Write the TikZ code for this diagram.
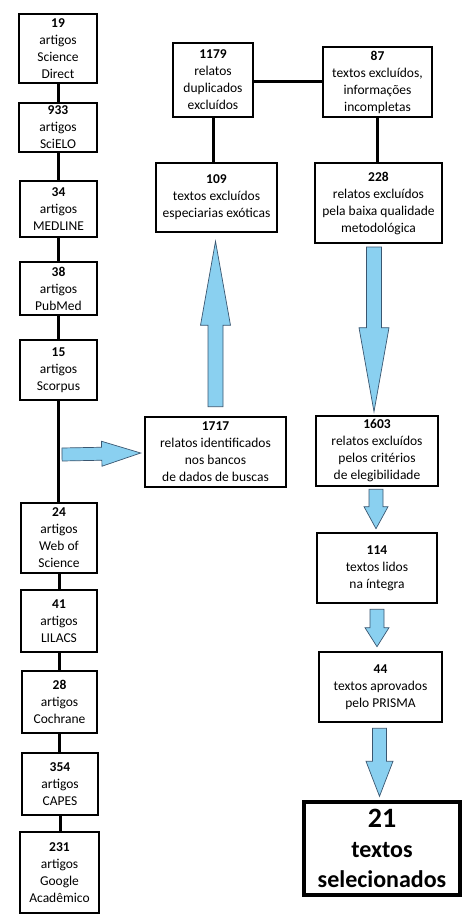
\documentclass[tikz,border=0pt]{standalone}
\usepackage{fontspec}
\setmainfont{Carlito}
\usetikzlibrary{calc}
\definecolor{arrfill}{HTML}{8AD0F0}
\definecolor{arrline}{HTML}{3A5670}
\tikzset{
  box/.style={draw=black, line width=2.6pt, fill=white, align=center, inner sep=0pt,
    font=\fontsize{13.5}{17}\selectfont},
  bigbox/.style={box, line width=3.4pt, font=\fontsize{24}{30}\selectfont\bfseries},
  link/.style={line width=3pt, black},
  arrowstyle/.style={fill=arrfill, draw=arrline, line width=0.7pt, line join=miter}
}
\newcommand\fatarrow[5]{%
  \path (#2) coordinate (fa-t) ($(#2)!#5!(#1)$) coordinate (fa-h);
  \draw[arrowstyle] ($(#1)!#3!90:(#2)$) -- ($(fa-h)!#3!90:(fa-t)$) -- ($(fa-h)!#4!90:(fa-t)$)
    -- (fa-t) -- ($(fa-h)!#4!-90:(fa-t)$) -- ($(fa-h)!#3!-90:(fa-t)$) -- ($(#1)!#3!-90:(#2)$) -- cycle;}
\begin{document}
\begin{tikzpicture}[x=1pt,y=-1pt]
\useasboundingbox (0,0) rectangle (474,915);
% left column
\node[box, minimum width=78pt, minimum height=69pt] (n19) at (58,48.5) {\textbf{19}\\artigos\\Science\\Direct};
\node[box, minimum width=78pt, minimum height=49pt] (n933) at (58,127.5) {\textbf{933}\\artigos\\SciELO};
\node[box, minimum width=77pt, minimum height=56pt] (n34) at (58.5,209) {\textbf{34}\\artigos\\MEDLINE};
\node[box, minimum width=77pt, minimum height=53pt] (n38) at (58.5,288.5) {\textbf{38}\\artigos\\PubMed};
\node[box, minimum width=77pt, minimum height=60pt] (n15) at (58.5,370) {\textbf{15}\\artigos\\Scorpus};
\node[box, minimum width=76pt, minimum height=70pt] (n24) at (59,538) {\textbf{24}\\artigos\\Web of\\Science};
\node[box, minimum width=76pt, minimum height=62pt] (n41) at (59,621) {\textbf{41}\\artigos\\LILACS};
\node[box, minimum width=75pt, minimum height=62pt] (n28) at (59.5,702) {\textbf{28}\\artigos\\Cochrane};
\node[box, minimum width=76pt, minimum height=62pt] (n354) at (60,784) {\textbf{354}\\artigos\\CAPES};
\node[box, minimum width=79pt, minimum height=81pt] (n231) at (59.5,872.5) {\textbf{231}\\artigos\\Google\\Acadêmico};
% middle and right
\node[box, minimum width=80pt, minimum height=74pt] (n1179) at (213,80) {\textbf{1179}\\relatos\\duplicados\\excluídos};
\node[box, minimum width=109pt, minimum height=70pt] (n87) at (377.5,82) {\textbf{87}\\textos excluídos,\\informações\\incompletas};
\node[box, minimum width=121pt, minimum height=69pt] (n109) at (216.5,197.5) {\textbf{109}\\textos excluídos\\especiarias exóticas};
\node[box, minimum width=127pt, minimum height=80pt] (n228) at (378.5,203) {\textbf{228}\\relatos excluídos\\pela baixa qualidade\\metodológica};
\node[box, minimum width=141pt, minimum height=70pt] (n1717) at (215.5,452) {\textbf{1717}\\relatos identificados\\nos bancos\\de dados de buscas};
\node[box, minimum width=122pt, minimum height=70pt] (n1603) at (377,451) {\textbf{1603}\\relatos excluídos\\pelos critérios\\de elegibilidade};
\node[box, minimum width=120pt, minimum height=70pt] (n114) at (377,568) {\textbf{114}\\textos lidos\\na íntegra};
\node[box, minimum width=123pt, minimum height=70pt] (n44) at (380.5,687) {\textbf{44}\\textos aprovados\\pelo PRISMA};
\node[bigbox, minimum width=156pt, minimum height=93pt] (n21) at (382,848.5) {{\fontsize{28}{30}\selectfont 21}\\textos\\selecionados};
% links left column
\foreach \a/\b in {n19/n933,n933/n34,n34/n38,n38/n15,n15/n24,n24/n41,n41/n28,n28/n354,n354/n231}
  \draw[link] (\a.south) -- (\a.south |- \b.north);
% links top
\draw[link] (n1179.east |- 0,82) -- (n87.west);
\draw[link] (n1179.south) -- (n1179.south |- n109.north);
\draw[link] (n87.south) -- (n87.south |- n228.north);
% fat arrows
\coordinate (hstart) at (62,454.5);
\coordinate (htip) at ($(n1717.west)+(-3,1)$);
\fatarrow{hstart}{htip}{6.5pt}{12.5pt}{39pt}
\coordinate (u1) at ($(n1717.north)+(0,-9)$);
\coordinate (u2) at ($(n1717.north |- n109.south)+(0,8)$);
\fatarrow{u1}{u2}{7.5pt}{15pt}{84pt}
\coordinate (d1) at (374,247);
\coordinate (d2) at ($(d1 |- n1603.north)+(0,-3)$);
\fatarrow{d1}{d2}{7.5pt}{15pt}{84pt}
\coordinate (e1) at ($(n1603.south)+(-1,2)$);
\coordinate (e2) at ($(e1 |- n114.north)+(0,-3)$);
\fatarrow{e1}{e2}{7pt}{12pt}{22pt}
\coordinate (f1) at ($(n114.south)+(0,5)$);
\coordinate (f2) at ($(f1 |- n44.north)+(0,-4)$);
\fatarrow{f1}{f2}{7pt}{12pt}{19pt}
\coordinate (g1) at ($(n44.south)+(-1,5)$);
\coordinate (g2) at ($(g1 |- n21.north)+(0,-4)$);
\fatarrow{g1}{g2}{7pt}{13.5pt}{35pt}
\end{tikzpicture}
\end{document}
